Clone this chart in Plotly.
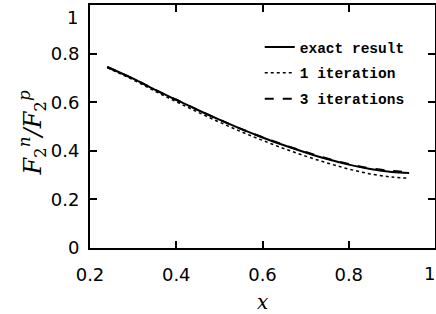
import plotly.graph_objects as go

x_vals = [0.24, 0.30, 0.35, 0.40, 0.45, 0.50, 0.55, 0.60, 0.65, 0.70, 0.75, 0.80, 0.85, 0.90, 0.94]
exact_result = [0.745, 0.697, 0.652, 0.610, 0.568, 0.528, 0.490, 0.455, 0.423, 0.393, 0.366, 0.343, 0.325, 0.313, 0.309]
one_iteration = [0.742, 0.692, 0.646, 0.602, 0.559, 0.518, 0.479, 0.443, 0.409, 0.378, 0.350, 0.325, 0.305, 0.292, 0.287]
three_iterations = [0.745, 0.697, 0.652, 0.610, 0.568, 0.528, 0.490, 0.456, 0.424, 0.395, 0.368, 0.346, 0.328, 0.317, 0.313]

x_ticks = [0.2, 0.4, 0.6, 0.8, 1.0]
x_tick_labels = ["0.2", "0.4", "0.6", "0.8", "1"]
y_ticks = [0, 0.2, 0.4, 0.6, 0.8, 1.0]
y_tick_labels = ["0", "0.2", "0.4", "0.6", "0.8", "1"]

tick_font = dict(family="DejaVu Sans", size=18, color="black")

fig = go.Figure()
fig.add_trace(go.Scatter(x=x_vals, y=exact_result, mode="lines", name="exact result", legendgroup="a",
                         line=dict(color="black", width=2, shape="spline")))
fig.add_trace(go.Scatter(x=x_vals, y=one_iteration, mode="lines", name="1 iteration", legendgroup="b",
                         line=dict(color="black", width=1.5, dash="dot", shape="spline")))
fig.add_trace(go.Scatter(x=x_vals, y=three_iterations, mode="lines", name="3 iterations", legendgroup="c",
                         line=dict(color="black", width=2, dash="dash", shape="spline")))

axis_common = dict(showgrid=False, zeroline=False, showline=True, linecolor="black", linewidth=2,
                   mirror="ticks", ticks="inside", ticklen=7, tickwidth=1.5, tickcolor="black",
                   automargin=False, ticklabeloverflow="allow", tickfont=tick_font)

# the end labels ("1") are drawn as annotations so they stay inside the figure, as in the reference
fig.update_xaxes(range=[0.2, 1.0], tickvals=x_ticks, ticktext=x_tick_labels[:-1] + [""],
                 ticklabelstandoff=9, **axis_common)
fig.update_yaxes(range=[0, 1.0], tickvals=y_ticks, ticktext=y_tick_labels[:-1] + [""],
                 ticklabelstandoff=5, **axis_common)

fig.add_annotation(text=x_tick_labels[-1], xref="x", yref="paper", x=x_ticks[-1], y=-0.104,
                   xanchor="right", yanchor="middle", xshift=2, showarrow=False, font=tick_font)
fig.add_annotation(text=y_tick_labels[-1], xref="paper", yref="y", x=-0.03, y=y_ticks[-1],
                   xanchor="right", yanchor="top", showarrow=False, font=tick_font)

fig.add_annotation(text="<i>x</i>", xref="paper", yref="paper", x=0.5, y=-0.222, yanchor="middle",
                   showarrow=False, font=dict(family="DejaVu Serif", size=20, color="black"))
fig.add_annotation(text="<i>F</i><sub>2</sub><sup><i>n</i></sup><i>/F</i><sub>2</sub><sup><i>p</i></sup>",
                   xref="paper", yref="paper", x=-0.168, y=0.475, textangle=-90,
                   xanchor="center", yanchor="middle",
                   showarrow=False, font=dict(family="DejaVu Serif", size=24, color="black"))

fig.update_layout(
    width=436, height=314,
    margin=dict(l=90, r=1, t=5, b=66),
    plot_bgcolor="white", paper_bgcolor="white",
    showlegend=True,
    legend=dict(x=0.492, y=0.893, xanchor="left", yanchor="top", bgcolor="rgba(0,0,0,0)",
                font=dict(family="Liberation Mono", size=14.5, color="black", weight="bold"),
                itemwidth=30, tracegroupgap=4),
)

fig.write_html("out.html", config={"displayModeBar": False},
               post_script="document.body.style.margin='0';")
